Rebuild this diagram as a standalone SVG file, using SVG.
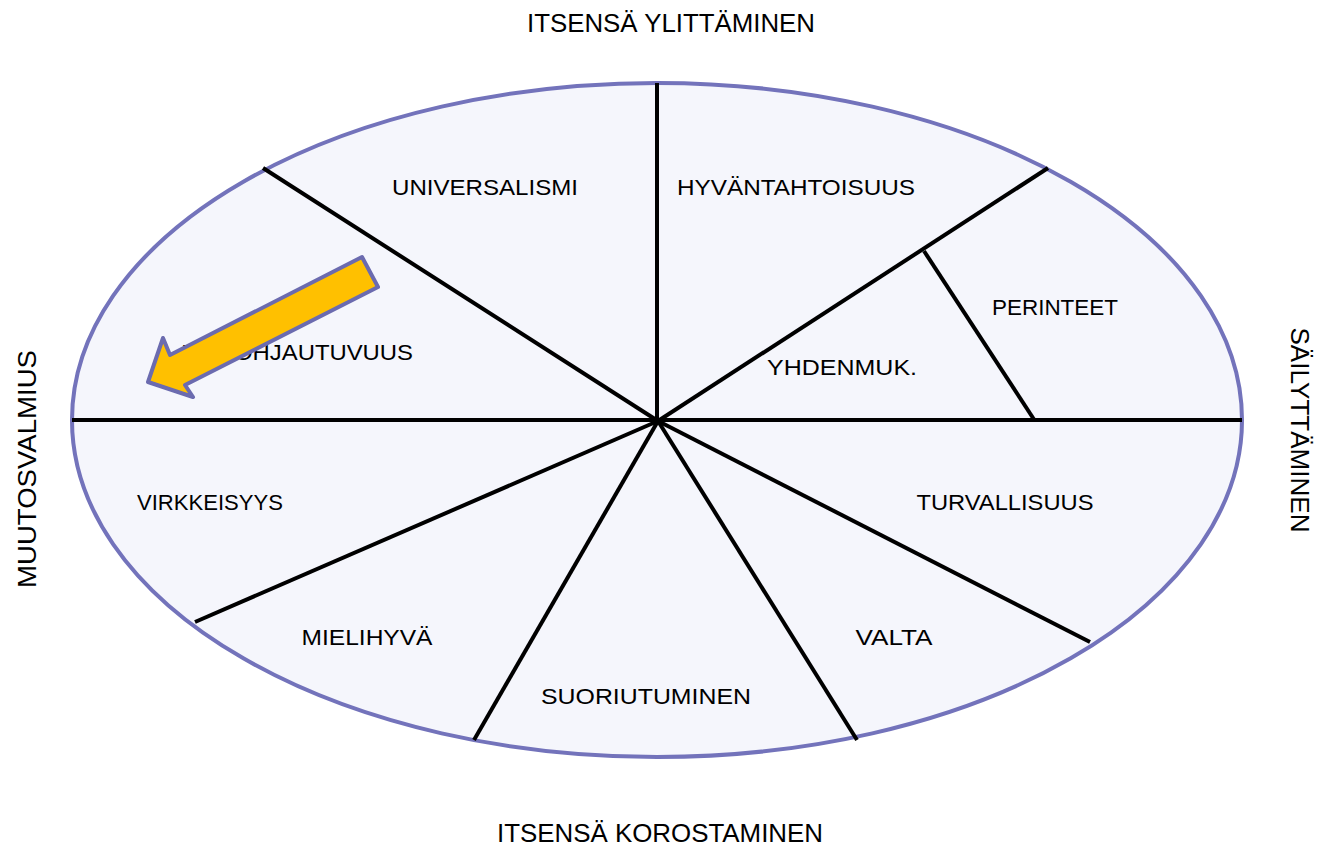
<svg xmlns="http://www.w3.org/2000/svg" width="1317" height="849" viewBox="0 0 1317 849">
<style>
text{font-family:"Liberation Sans",Arial,sans-serif;font-size:22px;fill:#000;text-anchor:middle}
.ax{font-size:25px}
.ln{stroke:#000;stroke-width:4;fill:none;stroke-linecap:butt}
</style>
<rect width="1317" height="849" fill="#fff"/>
<g id="wheel">
<ellipse cx="657" cy="420" rx="585" ry="337" fill="#f5f6fc" stroke="#7373bb" stroke-width="4"/>
</g>
<g id="connectors">
<line class="ln" x1="657" y1="83" x2="657" y2="422"/>
<line class="ln" x1="72" y1="420" x2="1242" y2="420"/>
<line class="ln" x1="263" y1="168" x2="658" y2="421"/>
<line class="ln" x1="1048" y1="168" x2="658" y2="421"/>
<line class="ln" x1="924" y1="251" x2="1035" y2="421"/>
<line class="ln" x1="195" y1="622" x2="658" y2="421"/>
<line class="ln" x1="474" y1="740" x2="658" y2="421"/>
<line class="ln" x1="857" y1="740" x2="658" y2="421"/>
<line class="ln" x1="1090" y1="642" x2="658" y2="421"/>
</g>
<g id="axis-top"><text class="ax" x="671" y="32" textLength="288" lengthAdjust="spacingAndGlyphs">ITSENSÄ YLITTÄMINEN</text></g>
<g id="axis-bottom"><text class="ax" x="660" y="842" textLength="326" lengthAdjust="spacingAndGlyphs">ITSENSÄ KOROSTAMINEN</text></g>
<g id="axis-left"><text class="ax" transform="translate(36,469) rotate(-90)" textLength="238" lengthAdjust="spacingAndGlyphs">MUUTOSVALMIUS</text></g>
<g id="axis-right"><text class="ax" transform="translate(1291,430) rotate(90)" textLength="205" lengthAdjust="spacingAndGlyphs">SÄILYTTÄMINEN</text></g>
<g id="universalismi"><text x="485" y="195" textLength="186" lengthAdjust="spacingAndGlyphs">UNIVERSALISMI</text></g>
<g id="hyvantahtoisuus"><text x="796" y="195" textLength="238" lengthAdjust="spacingAndGlyphs">HYVÄNTAHTOISUUS</text></g>
<g id="perinteet"><text x="1055" y="315" textLength="126" lengthAdjust="spacingAndGlyphs">PERINTEET</text></g>
<g id="yhdenmuk"><text x="842" y="375" textLength="150" lengthAdjust="spacingAndGlyphs">YHDENMUK.</text></g>
<g id="itseohjautuvuus"><text x="297" y="360" textLength="232" lengthAdjust="spacingAndGlyphs">ITSEOHJAUTUVUUS</text></g>
<g id="virkkeisyys"><text x="210" y="510" textLength="146" lengthAdjust="spacingAndGlyphs">VIRKKEISYYS</text></g>
<g id="turvallisuus"><text x="1005" y="510" textLength="177" lengthAdjust="spacingAndGlyphs">TURVALLISUUS</text></g>
<g id="mielihyva"><text x="367" y="645" textLength="131" lengthAdjust="spacingAndGlyphs">MIELIHYVÄ</text></g>
<g id="valta"><text x="894" y="645" textLength="77" lengthAdjust="spacingAndGlyphs">VALTA</text></g>
<g id="suoriutuminen"><text x="646" y="704" textLength="210" lengthAdjust="spacingAndGlyphs">SUORIUTUMINEN</text></g>
<g id="arrow">
<polygon points="362,257 378,287 185,385 193,397 148,382 163,338 170,355" fill="#ffc000" stroke="#6b6baf" stroke-width="4" stroke-linejoin="round"/>
</g>
</svg>
